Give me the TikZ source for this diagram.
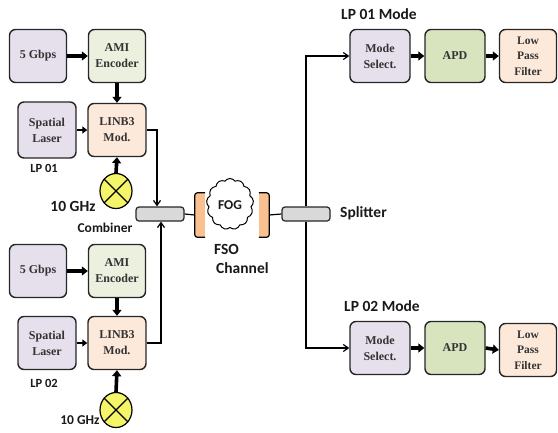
\documentclass[tikz,border=0pt]{standalone}
\usepackage{fontspec}
\setmainfont{Liberation Serif}
\newfontfamily\lab{Carlito}
\usetikzlibrary{shapes.geometric,shapes.symbols,arrows.meta}
\definecolor{lav}{HTML}{E5E0EC}
\definecolor{lgreen}{HTML}{EBF1DE}
\definecolor{peach}{HTML}{FDE9D9}
\definecolor{apdg}{HTML}{D7E4BD}
\definecolor{yel}{HTML}{F5F56A}
\definecolor{gry}{HTML}{D9D9D9}
\definecolor{org}{HTML}{FAC090}
\begin{document}
\begin{tikzpicture}[x=1pt,y=-1pt,
  blk/.style={draw=black!85, line width=1.4pt, rounded corners=6pt, align=center,
    font=\bfseries\fontsize{12}{16}\selectfont, text=black!80, inner sep=0pt,
    minimum width=57pt, minimum height=53pt},
  sblk/.style={blk, font=\bfseries\fontsize{11.5}{15.5}\selectfont},
  osc/.style={ellipse, draw=black, line width=1.2pt, fill=yel, minimum width=32pt, minimum height=35pt, inner sep=0pt},
  bar/.style={draw=black!85, line width=1.2pt, fill=gry, rounded corners=3pt, minimum width=48pt, minimum height=14pt, inner sep=0pt},
  brk/.style={fill=org, minimum width=10pt, minimum height=44pt, inner sep=0pt},
  lbl/.style={font=\lab\bfseries\fontsize{15.5}{17}\selectfont, text=black!90, inner sep=0pt},
  slbl/.style={font=\lab\bfseries\fontsize{12.5}{14}\selectfont, text=black!90, inner sep=0pt},
  thick arrow/.style={line width=3.6pt, -{Triangle[length=6pt,width=9pt]}},
  mid arrow/.style={line width=2.4pt, -{Triangle[length=5pt,width=7pt]}},
  thin arrow/.style={line width=1.2pt, -{Straight Barb[length=5pt,width=7pt]}},
  wire/.style={line width=1.2pt}
]
\useasboundingbox (0,0) rectangle (558,432);

% top transmitter
\node[blk, fill=lav] (g1) at (38,56) {5 Gbps};
\node[blk, fill=lgreen] (a1) at (117,56) {AMI\\Encoder};
\node[blk, fill=lav, minimum width=58pt, minimum height=56pt] (s1) at (47,130) {Spatial\\Laser};
\node[blk, fill=peach, minimum width=58pt] (m1) at (117,130) {LINB3\\Mod.};
\node[osc] (c1) at (116,191) {};
\draw[line width=1.2pt] (c1.45) -- (c1.225) (c1.135) -- (c1.315);
\node[slbl] (lp1) at (44,168) {LP 01};
\node[lbl] (f1) at (73,206) {10 GHz};

% bottom transmitter
\node[blk, fill=lav] (g2) at (38,271) {5 Gbps};
\node[blk, fill=lgreen] (a2) at (117,271) {AMI\\Encoder};
\node[blk, fill=lav, minimum width=58pt, minimum height=53pt] (s2) at (47,343) {Spatial\\Laser};
\node[blk, fill=peach, minimum width=58pt] (m2) at (117,343) {LINB3\\Mod.};
\node[osc] (c2) at (116,410) {};
\draw[line width=1.2pt] (c2.45) -- (c2.225) (c2.135) -- (c2.315);
\node[slbl] (lp2) at (44,383) {LP 02};
\node[lbl, font=\lab\bfseries\fontsize{13.5}{15}\selectfont] (f2) at (80,420) {10 GHz};

% arrows transmitters
\draw[thick arrow] (g1.east) -- (a1.west);
\draw[thick arrow] (a1.south) -- (m1.north);
\draw[mid arrow] (s1.east) -- (m1.west);
\draw[thick arrow] (c1.north) -- (m1.south);
\draw[thick arrow] (g2.east) -- (a2.west);
\draw[thick arrow] (a2.south) -- (m2.north);
\draw[mid arrow] (s2.east) -- (m2.west);
\draw[thick arrow] (c2.north) -- (m2.south);

% combiner
\node[bar] (cb) at (160,214) {};
\node[lbl, font=\lab\bfseries\fontsize{13.5}{15}\selectfont] (cbl) at (105,228) {Combiner};
\draw[thin arrow] (m1.east) -| ([xshift=-3pt]cb.north);
\draw[thin arrow] (m2.east) -| ([xshift=1pt]cb.south);

% FSO channel
\node[brk] (lb) at (200,215) {};
\node[brk] (rb) at (264,215) {};
\draw[wire, rounded corners=2.5pt] (lb.north east) -- (lb.north west) -- (lb.south west) -- (lb.south east);
\draw[wire, rounded corners=2.5pt] (rb.north west) -- (rb.north east) -- (rb.south east) -- (rb.south west);
\node[cloud, cloud puffs=13, cloud puff arc=110, aspect=0.9, draw=black, line width=1pt, fill=white,
  minimum width=47pt, minimum height=51pt, inner sep=0pt] (fog) at (230,204) {};
\node[font=\lab\bfseries\fontsize{13.5}{15}\selectfont, text=black!90] (fogl) at (230,205) {FOG};
\node[lbl, anchor=west] (fso) at (214,249) {FSO};
\node[lbl, anchor=west] (chn) at (216,268) {Channel};

% splitter
\node[bar] (sp) at (306,214) {};
\node[lbl, anchor=west] (spl) at (340,213) {Splitter};
\draw[wire] (cb.east) -- (lb.west);
\draw[wire] (rb.east) -- (sp.west);

% receivers
\node[blk, fill=lav, minimum width=60pt] (ms1) at (380,56) {Mode\\Select.};
\node[blk, fill=apdg, minimum width=60pt] (ap1) at (455,56) {APD};
\node[sblk, fill=peach] (lf1) at (528,56) {Low\\Pass\\Filter};
\node[lbl] (lm1) at (379,14) {LP 01 Mode};

\node[blk, fill=lav, minimum width=60pt] (ms2) at (380,348) {Mode\\Select.};
\node[blk, fill=apdg, minimum width=60pt] (ap2) at (455,348) {APD};
\node[sblk, fill=peach] (lf2) at (528,350) {Low\\Pass\\Filter};
\node[lbl] (lm2) at (382,306) {LP 02 Mode};

\draw[thin arrow] (sp.north) |- (ms1.west);
\draw[thin arrow] (sp.south) |- (ms2.west);
\draw[thick arrow] (ms1.east) -- (ap1.west);
\draw[thick arrow] (ap1.east) -- (lf1.west);
\draw[thick arrow] (ms2.east) -- (ap2.west);
\draw[thick arrow] (ap2.east) -- (lf2.west);
\end{tikzpicture}
\end{document}
